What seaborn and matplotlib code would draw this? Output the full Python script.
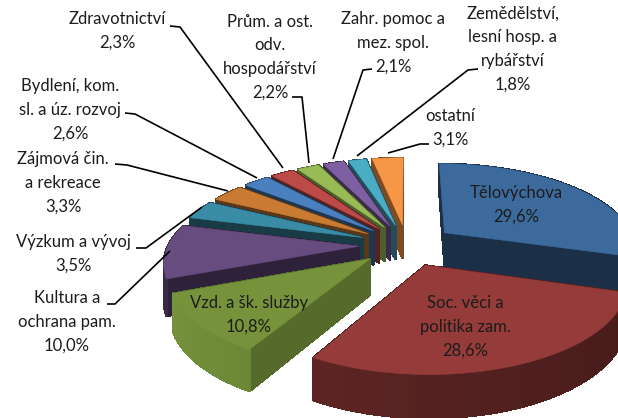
import matplotlib
matplotlib.use("Agg")
import matplotlib.pyplot as plt
import numpy as np
import seaborn as sns

# shares in percent, clockwise from 12 o'clock
shares = [29.6, 28.6, 10.8, 10.0, 3.5, 3.3, 2.6, 2.3, 2.2, 2.1, 1.8, 3.1]
names = [
    "Tělovýchova\n29,6%",
    "Soc. věci a\npolitika zam.\n28,6%",
    "Vzd. a šk. služby\n10,8%",
    "Kultura a\nochrana pam.\n10,0%",
    "Výzkum a vývoj\n3,5%",
    "Zájmová čin.\na rekreace\n3,3%",
    "Bydlení, kom.\nsl. a úz. rozvoj\n2,6%",
    "Zdravotnictví\n2,3%",
    "Prům. a ost.\nodv.\nhospodářství\n2,2%",
    "Zahr. pomoc a\nmez. spol.\n2,1%",
    "Zemědělství,\nlesní hosp. a\nrybářství\n1,8%",
    "ostatní\n3,1%",
]
colors = [
    "#3D6A9C", "#953B39", "#76933C", "#674C80", "#3A8CA6", "#C97B33",
    "#4A80C0", "#BC4B48", "#98BB55", "#7E60A2", "#4BACC6", "#F79646",
]
wall_shade = [0.45, 0.55, 0.8, 0.45, 0.42, 0.45, 0.42, 0.45, 0.5, 0.45, 0.45, 0.5]
label_pos = [
    (516, 205), (465, 327), (249, 315), (67, 322), (73, 254), (63, 183),
    (70, 110), (117, 31), (270, 57), (393, 43), (513, 49), (450, 128),
]
leaders = [
    [(107, 304), (115, 304), (170, 251)],
    [(136, 248), (146, 248), (202, 207)],
    [(115, 164), (127, 165), (228, 191)],
    [(125, 113), (135, 114), (257, 178)],
    [(170, 26), (180, 27), (283, 168)],
    [(292, 97), (302, 97), (309, 163)],
    [(372, 69), (363, 70), (333, 159)],
    [(478, 69), (468, 70), (357, 156)],
    [(429, 144), (420, 144), (388, 153)],
]

# projection of the tilted pie onto the picture
CX, CY = 407, 245
RX, RY = 191, 84
PERSP = 0.163
EXPLODE = 0.25
DEPTH = 35


def project(u, v):
    s = 1 + PERSP * v
    return CX + RX * u / s, CY - RY * v / s, DEPTH / s


def darker(color, k):
    return tuple(np.clip(np.array(matplotlib.colors.to_rgb(color)) * k, 0, 1))


sns.set_theme(style="white")
plt.rcParams["font.family"] = ["Lato", "DejaVu Sans"]
palette = sns.color_palette(colors)

fig, ax = plt.subplots(figsize=(6.18, 4.18), dpi=100)
fig.subplots_adjust(0, 0, 1, 1)
ax.set_xlim(0, 618)
ax.set_ylim(418, 0)
ax.axis("off")

edges = np.concatenate([[0], np.cumsum(shares)]) / np.sum(shares) * 2 * np.pi
slices = []
for i in range(len(shares)):
    mid = (edges[i] + edges[i + 1]) / 2
    slices.append((np.cos(mid), i, mid))

# far slices first
for _, i, mid in sorted(slices, reverse=True):
    du, dv = EXPLODE * np.sin(mid), EXPLODE * np.cos(mid)
    t = np.linspace(edges[i], edges[i + 1], max(8, int(shares[i] * 3)))
    u = du + np.sin(t)
    v = dv + np.cos(t)
    px, py, pd = project(u, v)
    x0, y0, d0 = project(np.array([du]), np.array([dv]))
    faces = []
    for a in (0, -1):
        quad_x = [x0[0], px[a], px[a], x0[0]]
        quad_y = [y0[0], py[a], py[a] + pd[a], y0[0] + d0[0]]
        faces.append(((dv + v[a]) / 2, quad_x, quad_y, wall_shade[i] * (0.9 if i == 2 else 1)))
    for j in range(len(t) - 1):
        quad_x = [px[j], px[j + 1], px[j + 1], px[j]]
        quad_y = [py[j], py[j + 1], py[j + 1] + pd[j + 1], py[j] + pd[j]]
        faces.append(((v[j] + v[j + 1]) / 2, quad_x, quad_y, wall_shade[i] * (1.05 - 0.2 * np.sin(t[j]))))
    for _, fx, fy, k in sorted(faces, key=lambda f: -f[0]):
        ax.fill(fx, fy, color=darker(palette[i], k), lw=0.8, antialiased=False)
    ax.fill(np.r_[x0, px], np.r_[y0, py], color=palette[i], lw=0.4)

for line in leaders:
    xs, ys = zip(*line)
    ax.plot(xs, ys, color="black", lw=1.2, solid_capstyle="butt", zorder=5)

for name, (x, y) in zip(names, label_pos):
    ax.text(x, y, name, ha="center", va="center", fontsize=12, color="#1c1c1c",
            linespacing=1.58, zorder=6)

plt.savefig("out.png", dpi=100)
